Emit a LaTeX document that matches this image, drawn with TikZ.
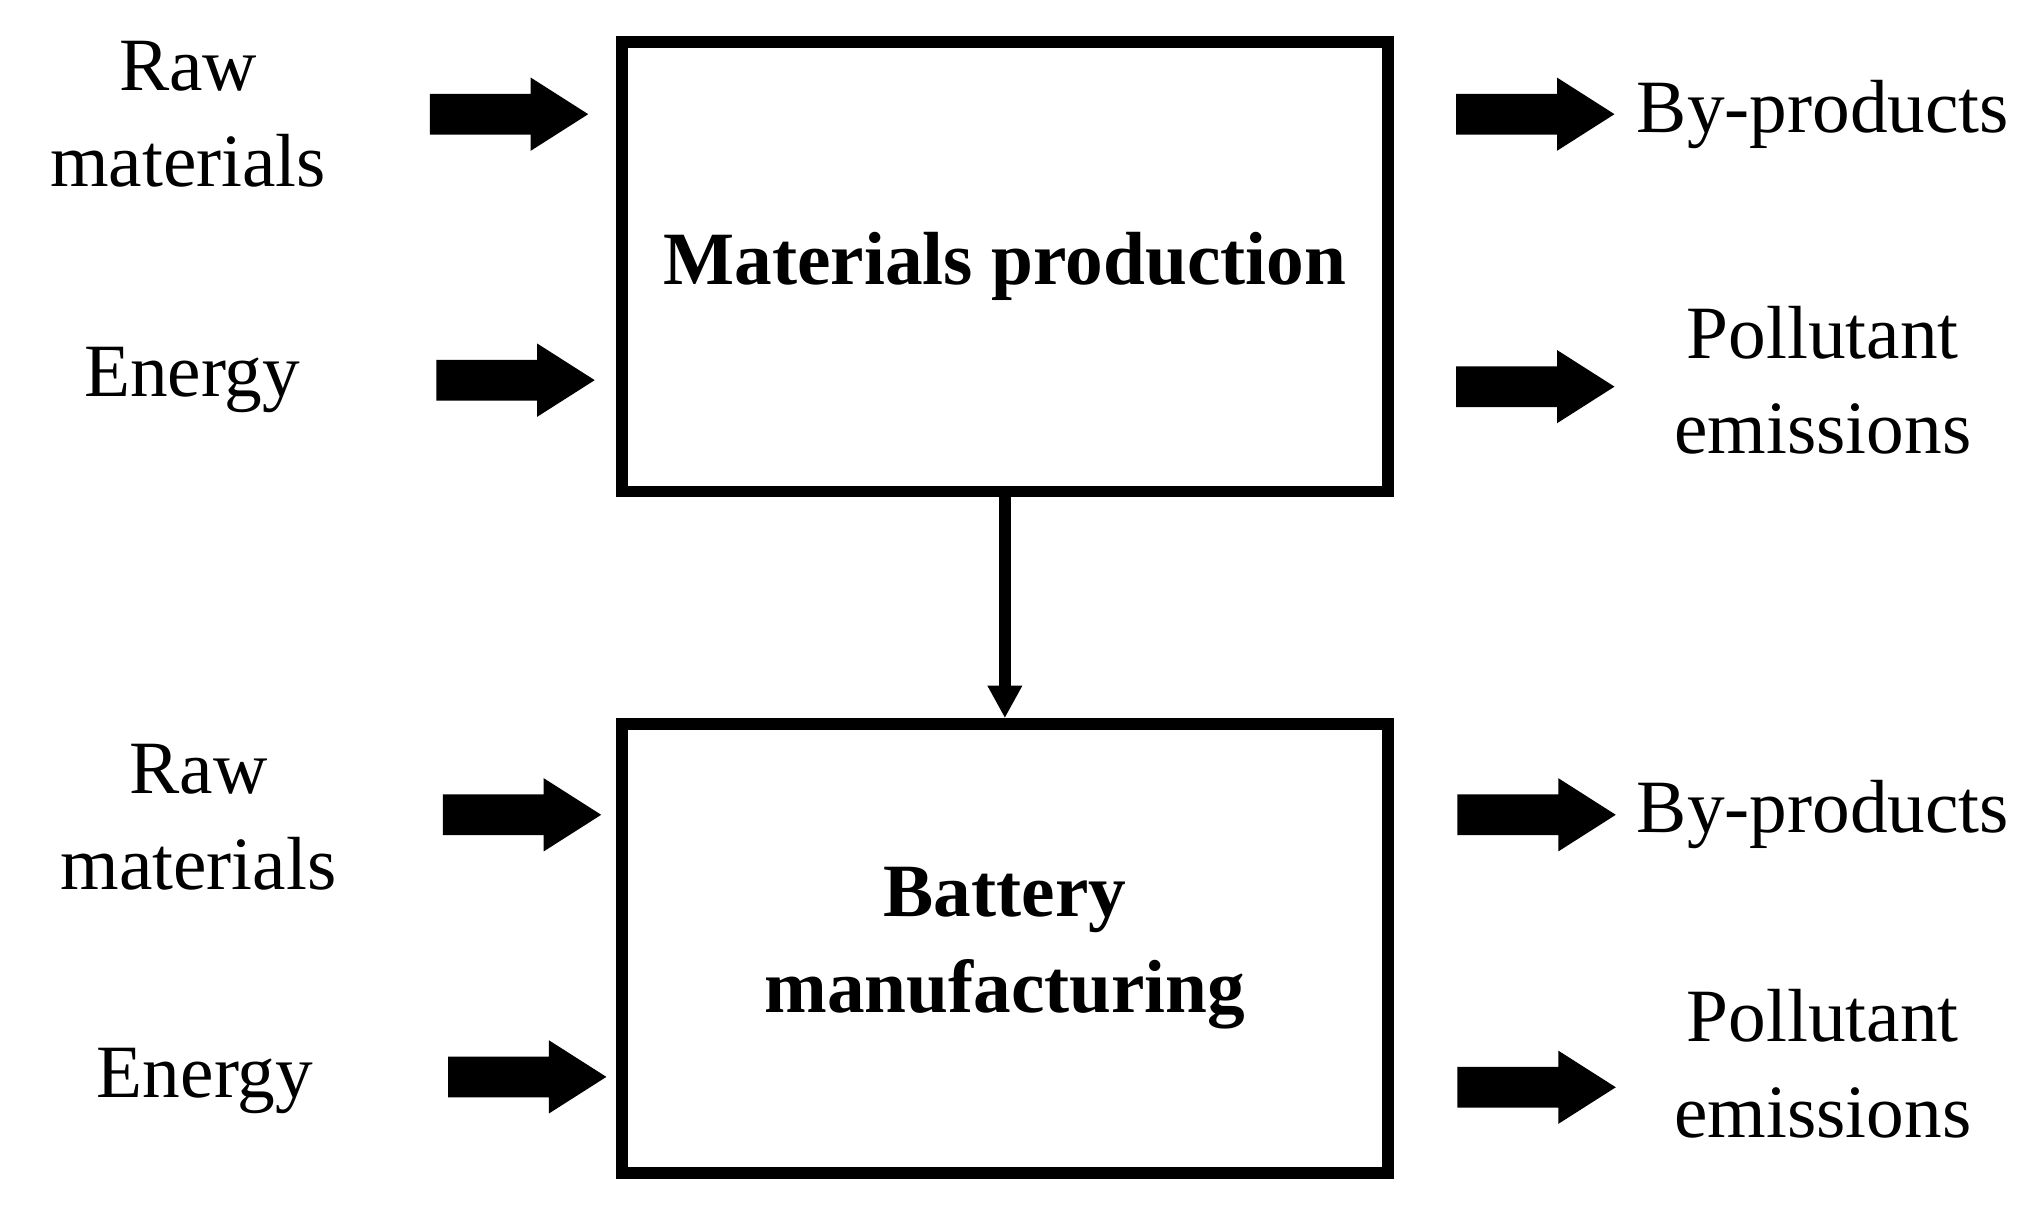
\documentclass[tikz,border=0pt]{standalone}
\usepackage{fontspec}
\setmainfont{Liberation Serif}
\usetikzlibrary{shapes.arrows,arrows.meta}
\tikzset{mybox/.style={
  draw=black,
  line width=2.5pt,
  minimum width=5.9cm,
  minimum height=3.46cm,
  align=center,
  font=\fontsize{16.5}{21}\selectfont\bfseries,
  }
}
\tikzset{myflow/.style={
  shape=single arrow,
  fill=black,
  draw=none,
  inner xsep=0pt,
  inner ysep=0.15cm,
  minimum height=1.22cm,
  single arrow head extend=0.125cm,
  single arrow tip angle=65,
  }
}
\tikzset{mylabel/.style={
  align=center,
  font=\fontsize{16.5}{21}\selectfont,
  }
}
\begin{document}
\begin{tikzpicture}[x=0.01cm,y=0.01cm]
  \useasboundingbox (0,0) rectangle (1560,929);

  \node [mybox] (mp) at (774.5,723.5) {Materials production};
  \node [mybox] (bm) at (774.5,198) {Battery\\manufacturing};

  % inputs
  \node [mylabel] (r1) at (145,841) {Raw\\materials};
  \node [mylabel] (e1) at (148,636) {Energy};
  \node [mylabel] (r2) at (153,299) {Raw\\materials};
  \node [mylabel] (e2) at (158,96) {Energy};
  \node [myflow] (ar1) at (380,841) {};
  \node [myflow] (ae1) at (385,636) {};
  \node [myflow] (ar2) at (390,301) {};
  \node [myflow] (ae2) at (394,99) {};

  % outputs
  \node [mylabel] (b1) at (1405,841) {By-products};
  \node [mylabel] (p1) at (1405,636) {Pollutant\\emissions};
  \node [mylabel] (b2) at (1405,301) {By-products};
  \node [mylabel] (p2) at (1405,109) {Pollutant\\emissions};
  \node [myflow] (ab1) at (1171,841) {};
  \node [myflow] (ap1) at (1171,631) {};
  \node [myflow] (ab2) at (1172,301) {};
  \node [myflow] (ap2) at (1172,91) {};

  \draw [line width=2.5pt, -{Triangle[length=0.25cm,width=0.25cm]}] (mp.south) -- (bm.north);
\end{tikzpicture}
\end{document}
